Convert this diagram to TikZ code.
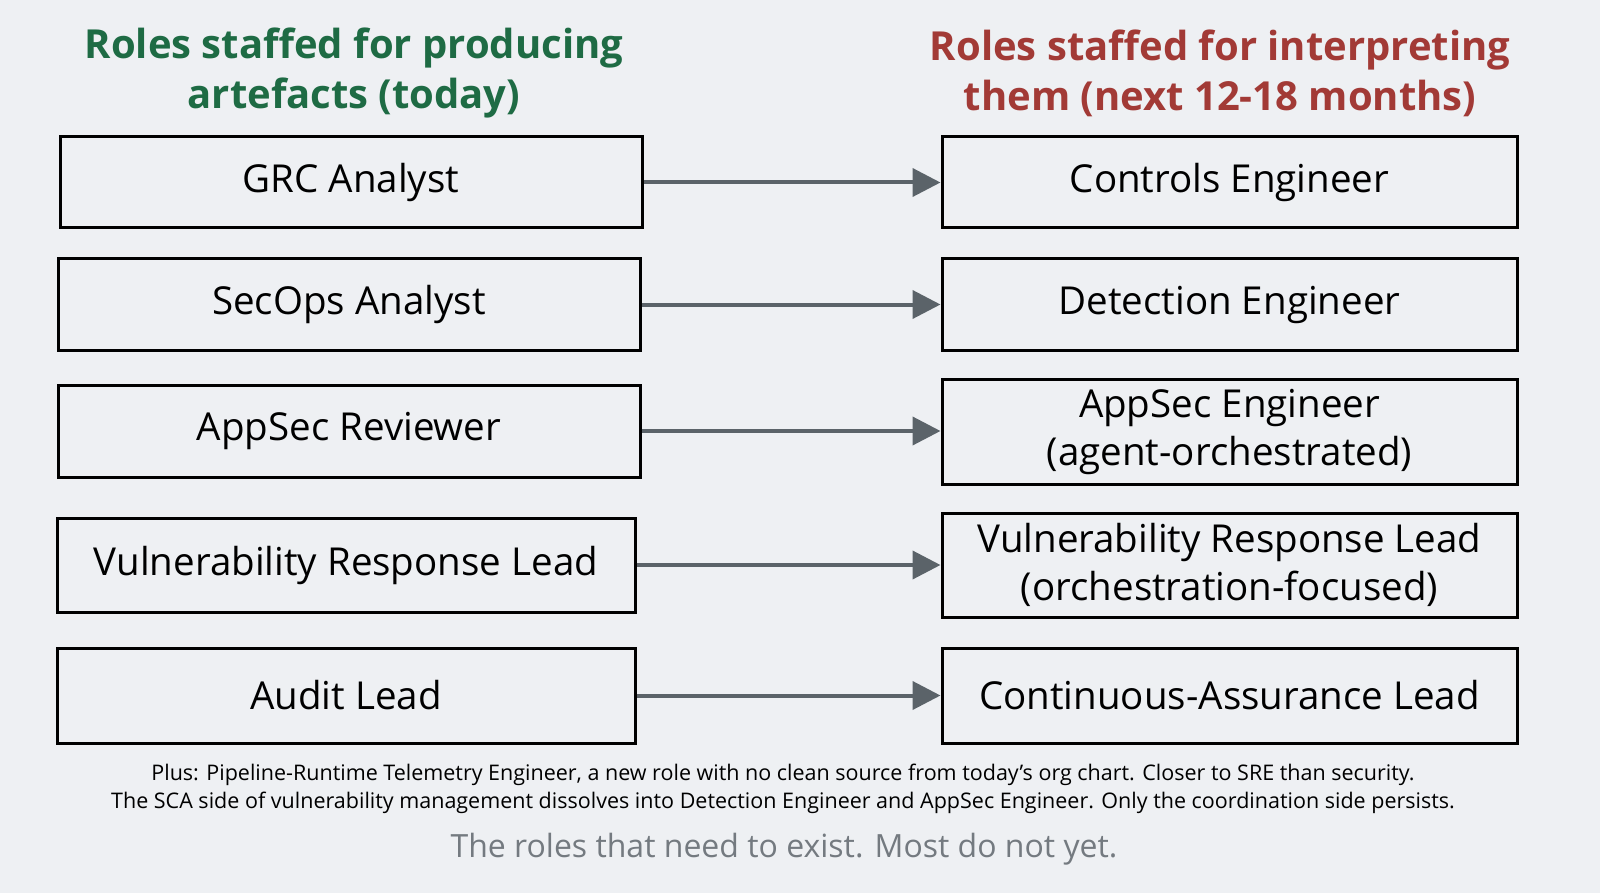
\documentclass[tikz,border=0pt]{standalone}
\usepackage{fontspec}
\setmainfont{Open Sans}
\usetikzlibrary{arrows.meta}
\definecolor{bg}{HTML}{EEF0F3}
\definecolor{tgreen}{HTML}{1E6B44}
\definecolor{tred}{HTML}{A23A36}
\definecolor{arr}{HTML}{5B6369}
\begin{document}
\begin{tikzpicture}[x=1pt,y=-1pt,
  box/.style={draw=black,line width=3pt,fill=bg,inner sep=0pt,align=center,font=\fontsize{38.5}{48}\selectfont},
  ttl/.style={align=center,font=\bfseries\fontsize{40}{50}\selectfont},
  con/.style={draw=arr,line width=4pt,-{Triangle[length=28pt,width=28pt]}}]
\fill[bg] (0,0) rectangle (1600,893);
\useasboundingbox (0,0) rectangle (1600,893);
\node[ttl,text=tgreen] (tl) at (354,73) {Roles staffed for producing\\artefacts (today)};
\node[ttl,text=tred] (tr) at (1220,73) {Roles staffed for interpreting\\them (next 12-18 months)};
\node[box,minimum width=582pt,minimum height=91pt] (l1) at (351,182.5) {GRC Analyst};
\node[box,minimum width=582pt,minimum height=91pt] (l2) at (349,304.5) {SecOps Analyst};
\node[box,minimum width=582pt,minimum height=92pt] (l3) at (349,431) {AppSec Reviewer};
\node[box,minimum width=578pt,minimum height=94pt] (l4) at (346,565) {Vulnerability Response Lead};
\node[box,minimum width=578pt,minimum height=95pt] (l5) at (346,695.5) {Audit Lead};
\node[box,minimum width=575pt,minimum height=91pt] (r1) at (1229.5,182.5) {Controls Engineer};
\node[box,minimum width=575pt,minimum height=91pt] (r2) at (1229.5,304.5) {Detection Engineer};
\node[box,minimum width=575pt,minimum height=105pt] (r3) at (1229.5,431.5) {AppSec Engineer\\(agent-orchestrated)};
\node[box,minimum width=575pt,minimum height=104pt] (r4) at (1229.5,565) {Vulnerability Response Lead\\(orchestration-focused)};
\node[box,minimum width=575pt,minimum height=95pt] (r5) at (1229.5,695.5) {Continuous-Assurance Lead};
\foreach \i in {1,...,5} \draw[con] (l\i.east) -- (r\i.west |- l\i.east);
\node[align=center,font=\fontsize{21.5}{28}\selectfont] (fn) at (783,789) {Plus: Pipeline-Runtime Telemetry Engineer, a new role with no clean source from today’s org chart. Closer to SRE than security.\\The SCA side of vulnerability management dissolves into Detection Engineer and AppSec Engineer. Only the coordination side persists.};
\node[text=arr!85,font=\fontsize{32}{38}\selectfont] (cap) at (784,849) {The roles that need to exist. Most do not yet.};
\end{tikzpicture}
\end{document}
